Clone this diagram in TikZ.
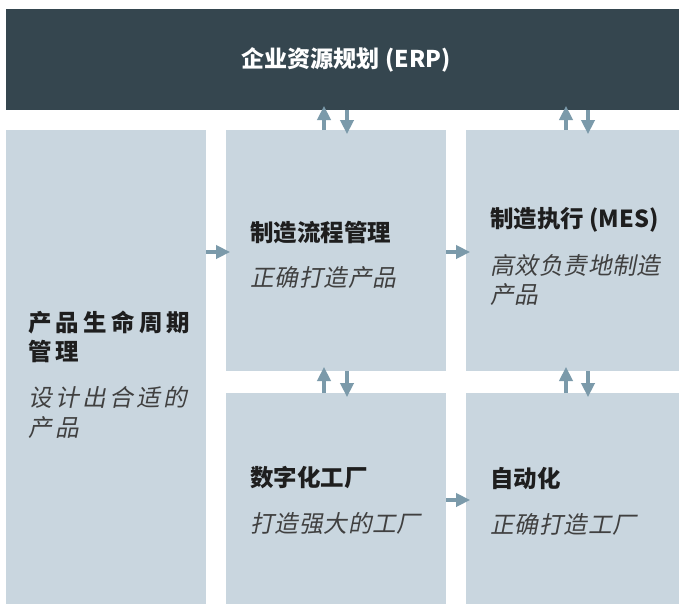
\documentclass[tikz,border=0pt]{standalone}
\usepackage{fontspec}
\setmainfont{Noto Sans CJK SC}
\newfontfamily\cjkit{Noto Sans CJK SC}[FakeSlant=0.2,LetterSpace=3]
\newfontfamily\cjkitsp{Noto Sans CJK SC}[FakeSlant=0.2,LetterSpace=14]
\newfontfamily\cjksp{Noto Sans CJK SC}[LetterSpace=18]
\usetikzlibrary{arrows.meta}
\definecolor{darkbar}{HTML}{35464F}
\definecolor{boxc}{HTML}{C9D6DF}
\definecolor{arrowc}{HTML}{7B9AAA}
\definecolor{txt}{HTML}{1E1E1E}
\tikzset{
  box/.style={fill=boxc, inner sep=0pt, outer sep=0pt},
  bar/.style={fill=darkbar, inner sep=0pt, outer sep=0pt},
  head/.style={anchor=west, inner sep=0pt, text=txt, font=\fontsize{17.6pt}{20pt}\selectfont\bfseries},
  sub/.style={anchor=west, inner sep=0pt, text=txt!85, font=\fontsize{17.8pt}{20pt}\cjkit},
  arr/.style={draw=arrowc, line width=2.3pt, -{Triangle[length=10.5pt,width=10pt]}, shorten >=-3pt}
}
\begin{document}
\begin{tikzpicture}[x=0.75pt,y=-0.75pt]
\useasboundingbox (0,0) rectangle (679,604);
% boxes
\node[bar, minimum width=673*0.75pt, minimum height=101*0.75pt] (erp) at (342.5,59.5) {};
\node[box, minimum width=200*0.75pt, minimum height=474*0.75pt] (plm) at (106,367) {};
\node[box, minimum width=220*0.75pt, minimum height=241*0.75pt] (mpm) at (336,250.5) {};
\node[box, minimum width=213*0.75pt, minimum height=241*0.75pt] (mes) at (572.5,250.5) {};
\node[box, minimum width=220*0.75pt, minimum height=211*0.75pt] (dig) at (336,498.5) {};
\node[box, minimum width=213*0.75pt, minimum height=211*0.75pt] (aut) at (572.5,498.5) {};
% title
\node[inner sep=0pt, text=white, font=\fontsize{17.3pt}{20pt}\selectfont\bfseries] (erpt) at (346,60) {企业资源规划 (ERP)};
% texts
\node[head] (t1) at (250,233) {制造流程管理};
\node[sub] (s1) at (250,278) {正确打造产品};
\node[head] (t2) at (490,220) {制造执行 (MES)};
\node[sub] (s2a) at (490,265) {高效负责地制造};
\node[sub] (s2b) at (490,295) {产品};
\node[head] (t3) at (250,478) {数字化工厂};
\node[sub] (s3) at (250,524) {打造强大的工厂};
\node[head] (t4) at (490,478) {自动化};
\node[sub] (s4) at (490,524) {正确打造工厂};
\node[head, font=\fontsize{17.6pt}{20pt}\cjksp\bfseries] (t5a) at (28,323) {产品生命周期};
\node[head, font=\fontsize{17.6pt}{20pt}\cjksp\bfseries] (t5b) at (28,351) {管理};
\node[sub, font=\fontsize{17.8pt}{20pt}\cjkitsp] (s5a) at (28,397) {设计出合适的};
\node[sub, font=\fontsize{17.8pt}{20pt}\cjkitsp] (s5b) at (28,428) {产品};
% connectors
\draw[arr] (324,0 |- mpm.north) -- (324,0 |- erp.south);
\draw[arr] (347,0 |- erp.south) -- (347,0 |- mpm.north);
\draw[arr] (566,0 |- mes.north) -- (566,0 |- erp.south);
\draw[arr] (588,0 |- erp.south) -- (588,0 |- mes.north);
\draw[arr] (324,0 |- dig.north) -- (324,0 |- mpm.south);
\draw[arr] (347,0 |- mpm.south) -- (347,0 |- dig.north);
\draw[arr] (566,0 |- aut.north) -- (566,0 |- mes.south);
\draw[arr] (588,0 |- mes.south) -- (588,0 |- aut.north);
\draw[arr] (plm.east |- 0,252) -- (mpm.west |- 0,252);
\draw[arr] (mpm.east |- 0,252) -- (mes.west |- 0,252);
\draw[arr] (dig.east |- 0,500) -- (aut.west |- 0,500);
\end{tikzpicture}
\end{document}
